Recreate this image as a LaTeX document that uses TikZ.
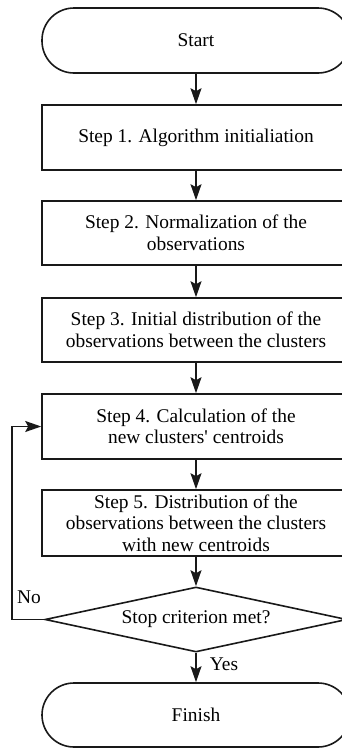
\documentclass[tikz,border=0pt]{standalone}
\usepackage{fontspec}
\setmainfont{Liberation Serif}[Ligatures=TeXOff]
\usetikzlibrary{arrows.meta,shapes.geometric}
\tikzset{
  base/.style={draw=black!90, line width=1.6pt, font=\fontsize{19.4}{21.5}\selectfont, align=center, inner sep=0pt},
  term/.style={base, rectangle, rounded corners=32pt, minimum width=308pt, minimum height=65pt},
  proc/.style={base, rectangle, minimum width=308pt},
  dec/.style={base, diamond, aspect=4.646, minimum width=302pt, minimum height=65pt},
  arr/.style={draw=black!90, line width=1.6pt, -{Stealth[length=16pt,width=11pt,inset=3pt]}},
  lbl/.style={font=\fontsize{19.4}{21.5}\selectfont, inner sep=0pt}
}
\begin{document}
\begin{tikzpicture}[x=1pt,y=-1pt]
\useasboundingbox (0,0) rectangle (341,748);
\node[term] (start) at (196,40.5) {Start};
\node[proc, minimum height=65pt] (s1) at (196,137.5) {Step 1. Algorithm initialiation};
\node[proc, minimum height=64pt] (s2) at (196,233) {Step 2. Normalization of the\\observations};
\node[proc, minimum height=64pt] (s3) at (196,330) {Step 3. Initial distribution of the\\observations between the clusters};
\node[proc, minimum height=65pt] (s4) at (196,426.5) {Step 4. Calculation of the\\new clusters' centroids};
\node[proc, minimum height=66pt] (s5) at (196,523) {Step 5. Distribution of the\\observations between the clusters\\with new centroids};
\node[dec] (d) at (196,619.5) {Stop criterion met?};
\node[term, minimum height=64pt] (fin) at (196,715) {Finish};
\node[lbl] (no) at (29,597) {No};
\node[lbl] (yes) at (224,664) {Yes};
\coordinate (lp) at (12,619.5);
\draw[arr] (start) -- (s1);
\draw[arr] (s1) -- (s2);
\draw[arr] (s2) -- (s3);
\draw[arr] (s3) -- (s4);
\draw[arr] (s4) -- (s5);
\draw[arr] (s5) -- (d);
\draw[arr] (d) -- (fin);
\draw[arr] (d.west) -- (lp) |- (s4.west);
\end{tikzpicture}
\end{document}
